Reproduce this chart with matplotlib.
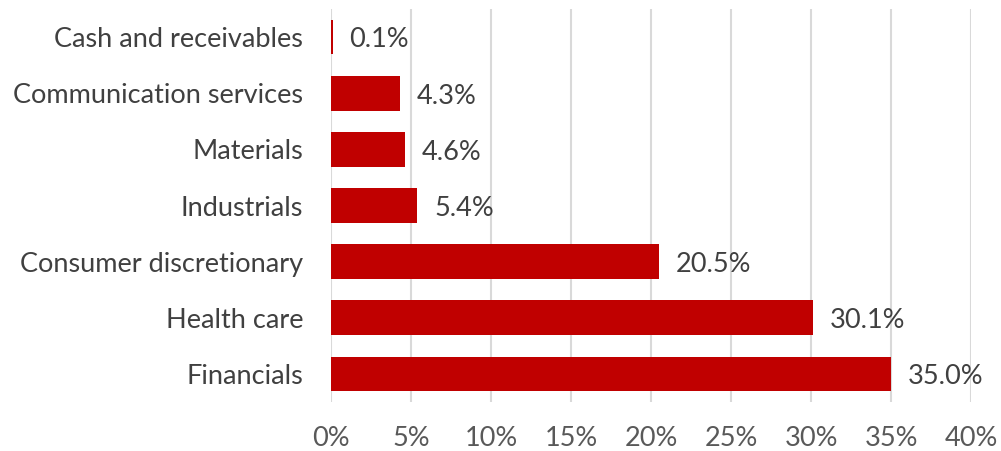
import matplotlib.pyplot as plt
import numpy as np

# sector weights, bottom to top
sectors = ['Financials', 'Health care', 'Consumer discretionary', 'Industrials',
           'Materials', 'Communication services', 'Cash and receivables']
weights = [35.0, 30.1, 20.5, 5.4, 4.6, 4.3, 0.1]
xticks = [0, 5, 10, 15, 20, 25, 30, 35, 40]

plt.rcParams['font.family'] = ['Lato', 'DejaVu Sans']
fs = 19.5

fig = plt.figure(figsize=(10.01, 4.51), dpi=100)
ax = fig.add_axes([0.3307, 0.1086, 0.6394, 0.8714])

y = np.arange(len(sectors))
ax.barh(y, weights, height=0.62, color='#C00000', zorder=3)

for yi, w in zip(y, weights):
    ax.annotate(f'{w:.1f}%', (w, yi), xytext=(12, -2), textcoords='offset points',
                ha='left', va='center', fontsize=fs, color='#404040')

ax.set_xlim(0, 40)
ax.set_ylim(-0.5, len(sectors) - 0.5)
ax.set_xticks(xticks)
ax.set_xticklabels([f'{t}%' for t in xticks])
ax.set_yticks(y)
ax.set_yticklabels(sectors)
ax.tick_params(axis='x', length=0, pad=17, labelsize=fs, labelcolor='#595959')
ax.tick_params(axis='y', length=0, pad=20, labelsize=fs, labelcolor='#404040')
ax.grid(axis='x', color='#D9D9D9', linewidth=1.5, zorder=0)
for s in ax.spines.values():
    s.set_visible(False)

fig.savefig('out.png', dpi=100)
